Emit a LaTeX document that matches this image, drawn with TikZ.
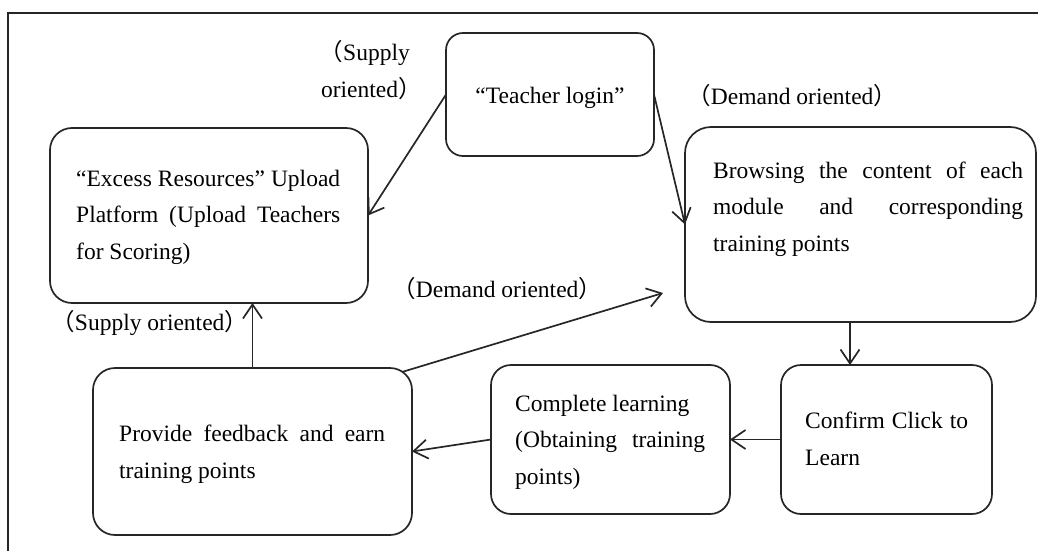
\documentclass[tikz,border=0pt]{standalone}
\usepackage{fontspec}
\setmainfont{Liberation Serif}
\newfontfamily\cjk{Noto Sans CJK SC}
\usetikzlibrary{arrows.meta,calc}
\newcommand\lpar{\makebox[0.5em][r]{\cjk （}}
\newcommand\rpar{\makebox[0.5em][l]{\cjk ）}}
\newcommand\jline[2]{\makebox[#1pt][s]{#2}}
\begin{document}
\begin{tikzpicture}[x=1pt,y=-1pt,
  box/.style={draw=black!85, line width=1.7pt, rounded corners=22pt, inner sep=0pt, outer sep=0pt},
  txt/.style={inner sep=0pt, align=left, font=\fontsize{23.5}{36.5}\selectfont, anchor=base west},
  lbl/.style={inner sep=0pt, font=\fontsize{23.5}{36.5}\selectfont},
  arr/.style={draw=black!85, line width=1.7pt, -{Straight Barb[length=14pt,width=19pt,line width=1.7pt]}},
  frame/.style={draw=black!85, line width=1.7pt}
]
\useasboundingbox (0,0) rectangle (1038,551);
\draw[frame] (8,551) -- (8,13) -- (1038,13);

% boxes
\node[box, rounded corners=17pt, minimum width=208pt, minimum height=123pt] (teach) at (550,94.5) {};
\node[box, minimum width=318pt, minimum height=175pt] (excess) at (209,215.5) {};
\node[box, rounded corners=26pt, minimum width=351pt, minimum height=195pt] (browse) at (860.5,224.5) {};
\node[box, rounded corners=20pt, minimum width=211pt, minimum height=149pt] (confirm) at (886.5,439.5) {};
\node[box, rounded corners=20pt, minimum width=239pt, minimum height=149pt] (complete) at (610.5,439.5) {};
\node[box, minimum width=319pt, minimum height=167pt] (provide) at (252.5,451.5) {};

% texts (base anchor = baseline of the last line)
\node[lbl, anchor=base] (tteach) at (550,103) {“Teacher login”};
\node[txt] (texcess) at (76,259) {\jline{264}{“Excess Resources” Upload}\\ \jline{264}{Platform (Upload Teachers}\\ for Scoring)};
\node[txt] (tbrowse) at (713,251) {\jline{310}{Browsing the content of each}\\ \jline{310}{module and corresponding}\\ training points};
\node[txt] (tconfirm) at (805,465) {\jline{163}{Confirm Click to}\\ Learn};
\node[txt] (tcomplete) at (515,484) {Complete learning\\ \jline{190}{(Obtaining training}\\ points)};
\node[txt] (tprovide) at (119,478) {\jline{266}{Provide feedback and earn}\\ training points};

% labels
\node[lbl, align=right, anchor=base east] (sup1) at (410,97) {\lpar Supply\\ oriented\rpar};
\node[lbl, anchor=base west] (dem1) at (699,104) {\lpar Demand oriented\rpar};
\node[lbl, anchor=base west] (dem2) at (404,297) {\lpar Demand oriented\rpar};
\node[lbl, anchor=base west] (sup2) at (63,330) {\lpar Supply oriented\rpar};

% connectors
\draw[arr] (teach.west) -- (excess.east);
\draw[arr] (teach.east) -- (browse.west);
\draw[arr] (provide.north) -- (provide.north |- excess.south);
\draw[arr] ($(provide.north east)+(-10,4)$) -- ($(browse.south west)+(-22,-29)$);
\draw[arr] ([xshift=-10.5pt]browse.south) -- ([xshift=-10.5pt]browse.south |- confirm.north);
\draw[arr] (confirm.west) -- (complete.east);
\draw[arr] (complete.west) -- (provide.east);
\end{tikzpicture}
\end{document}
